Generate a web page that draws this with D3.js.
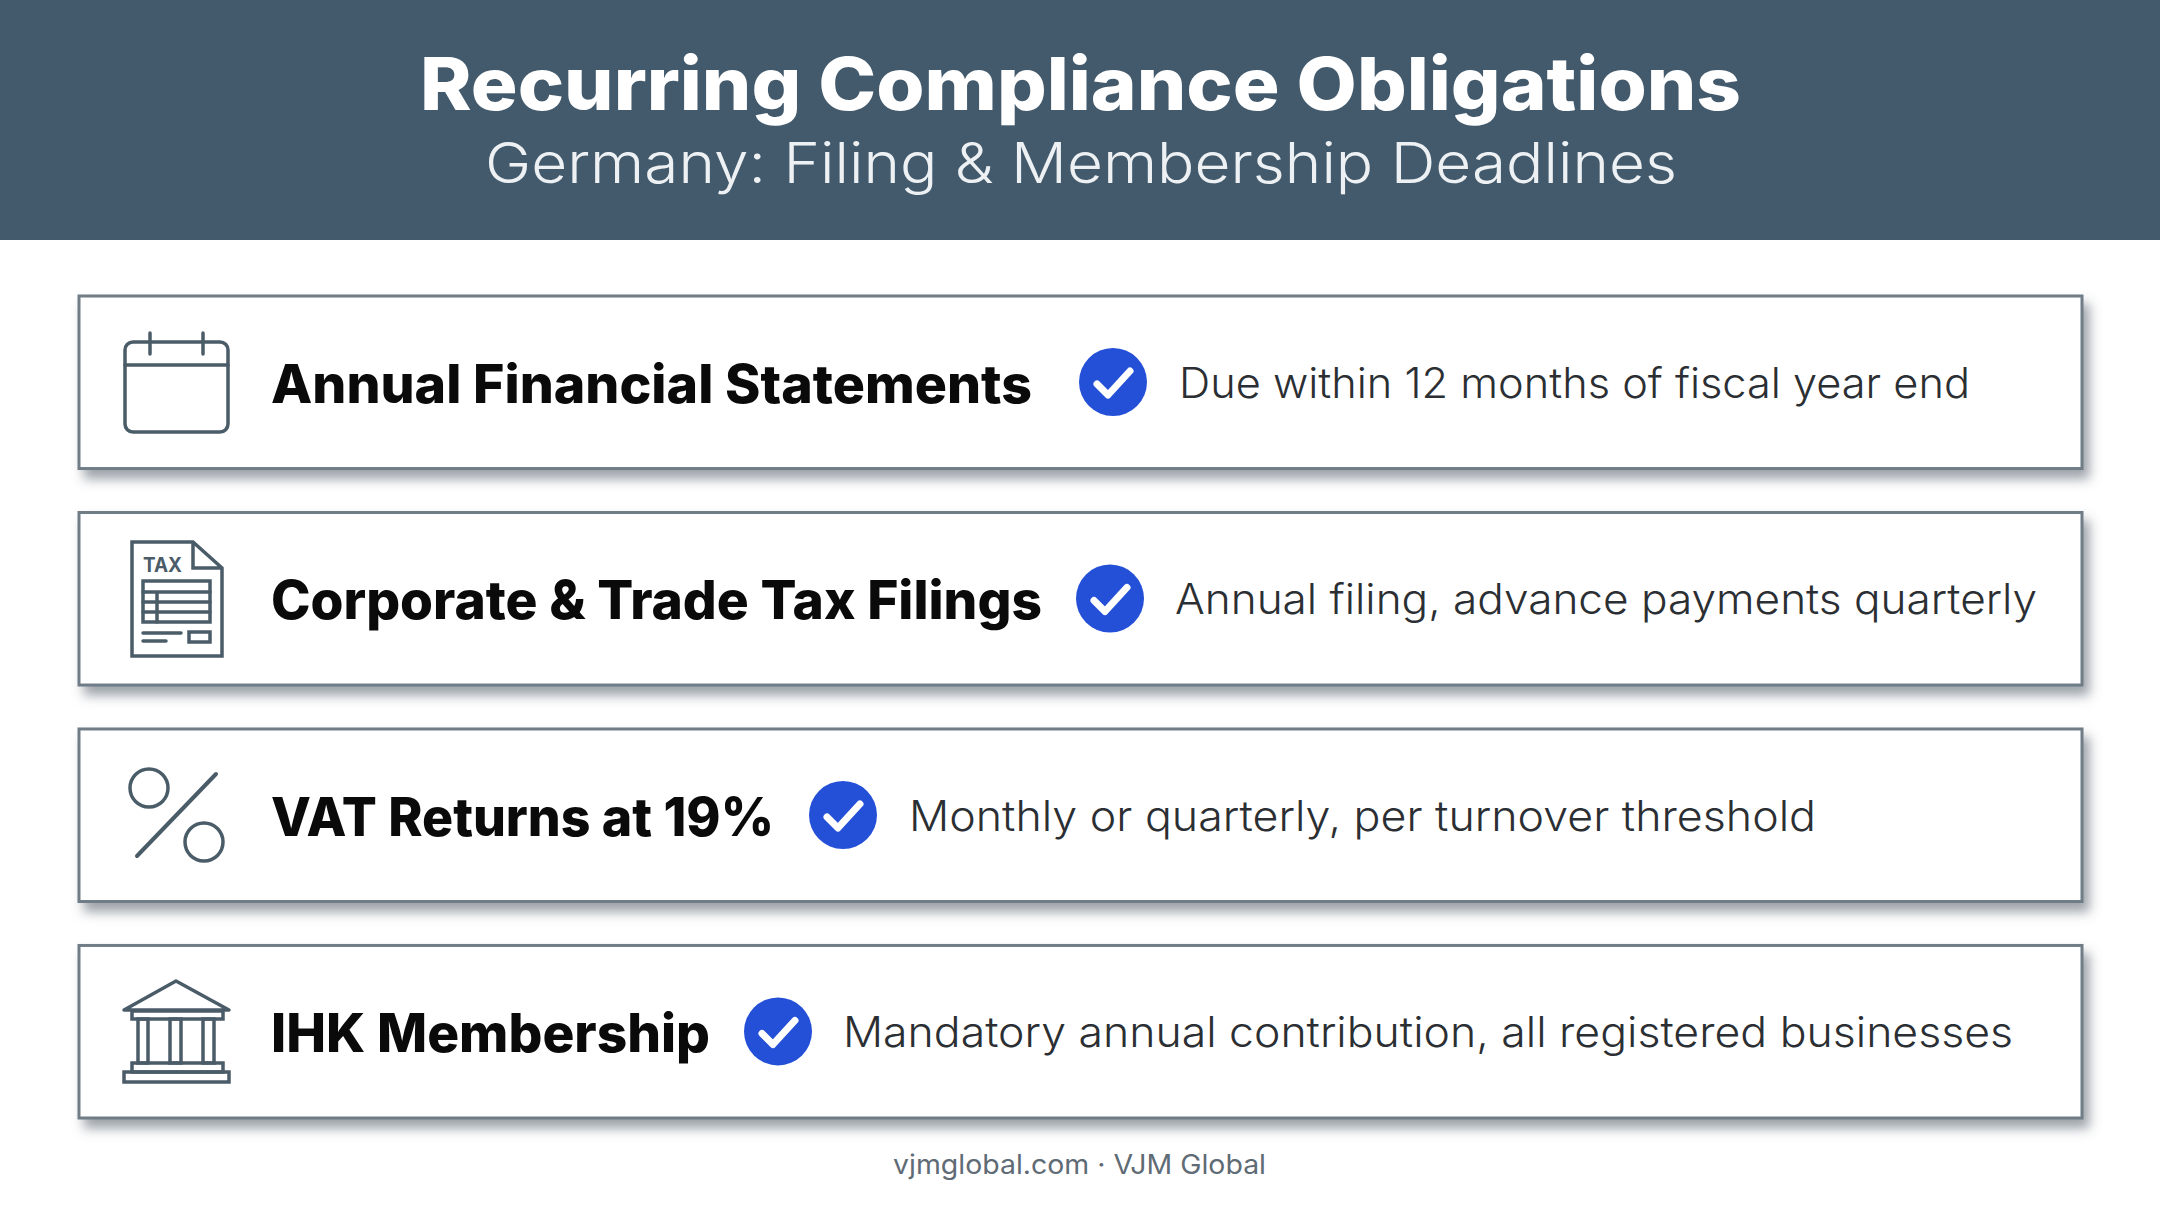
<!DOCTYPE html>
<html>
<head>
<meta charset="utf-8">
<script src="https://cdn.jsdelivr.net/npm/d3@7"></script>
<style>
  html, body { margin: 0; padding: 0; background: #fff; }
  svg { display: block; }
  text { font-family: Inter, "Open Sans", sans-serif; }
</style>
</head>
<body>
<div id="chart"></div>
<script>
const chartTitle = "Recurring Compliance Obligations";
const chartSubtitle = "Germany: Filing & Membership Deadlines";
const footerText = "vjmglobal.com \u00b7 VJM Global";

const obligations = [
  "Annual Financial Statements",
  "Corporate & Trade Tax Filings",
  "VAT Returns at 19%",
  "IHK Membership"
];
const details = [
  "Due within 12 months of fiscal year end",
  "Annual filing, advance payments quarterly",
  "Monthly or quarterly, per turnover threshold",
  "Mandatory annual contribution, all registered businesses"
];

// layout (Montserrat is not installed so text gets fitted)
const width = 2160, height = 1206;
const labelX = 271;
const labelWidths = [761, 771, 503, 439];
const checkXs = [1113, 1110, 843, 778];
const detailXs = [1179, 1175, 909, 843];
const detailWidths = [791, 862, 907, 1170];

const iconColor = "#4b5c69";

const svg = d3.select("#chart").append("svg")
  .attr("width", width)
  .attr("height", height);

const shadow = svg.append("defs").append("filter")
  .attr("id", "card-shadow")
  .attr("x", "-2%").attr("y", "-10%")
  .attr("width", "104%").attr("height", "130%");
shadow.append("feDropShadow")
  .attr("dx", 6).attr("dy", 9)
  .attr("stdDeviation", 6)
  .attr("flood-color", "#5c6670")
  .attr("flood-opacity", 0.6);

// header
svg.append("rect")
  .attr("width", width).attr("height", 240)
  .attr("fill", "#435a6c");

svg.append("text")
  .attr("x", 420).attr("y", 110)
  .attr("font-size", 73).attr("font-weight", 800)
  .attr("fill", "#fff")
  .attr("textLength", 1321).attr("lengthAdjust", "spacingAndGlyphs")
  .text(chartTitle);

svg.append("text")
  .attr("x", 485).attr("y", 183)
  .attr("font-size", 56).attr("font-weight", 300)
  .attr("fill", "#eef1f3")
  .attr("textLength", 1192).attr("lengthAdjust", "spacingAndGlyphs")
  .text(chartSubtitle);

// rows
const y = d3.scaleBand()
  .domain(d3.range(obligations.length))
  .range([296, 1118])
  .paddingInner(0.203);

const row = svg.selectAll(".row")
  .data(obligations)
  .enter().append("g")
    .attr("class", "row")
    .attr("transform", (d, i) => "translate(0," + y(i) + ")");

row.append("rect")
  .attr("x", 79).attr("width", 2003)
  .attr("height", y.bandwidth())
  .attr("fill", "#fff")
  .attr("stroke", "#6f7d87")
  .attr("stroke-width", 3)
  .attr("filter", "url(#card-shadow)");

row.append("text")
  .attr("x", labelX).attr("y", 107)
  .attr("font-size", 53).attr("font-weight", 800)
  .attr("fill", "#0a0a0a")
  .attr("textLength", (d, i) => labelWidths[i])
  .attr("lengthAdjust", "spacingAndGlyphs")
  .text(d => d);

row.append("circle")
  .attr("cx", (d, i) => checkXs[i]).attr("cy", 86)
  .attr("r", 34)
  .attr("fill", "#2450d8");

row.append("path")
  .attr("transform", (d, i) => "translate(" + checkXs[i] + ",86)")
  .attr("d", "M-16,2L-5,13L17,-11")
  .attr("fill", "none")
  .attr("stroke", "#fff")
  .attr("stroke-width", 7)
  .attr("stroke-linecap", "round")
  .attr("stroke-linejoin", "round");

row.append("text")
  .attr("x", (d, i) => detailXs[i]).attr("y", 102)
  .attr("font-size", 42).attr("font-weight", 350)
  .attr("fill", "#2b2f33")
  .attr("textLength", (d, i) => detailWidths[i])
  .attr("lengthAdjust", "spacingAndGlyphs")
  .text((d, i) => details[i]);

// icons
const icons = svg.append("g")
  .attr("fill", "none")
  .attr("stroke", iconColor)
  .attr("stroke-width", 3.5)
  .attr("stroke-linecap", "round");

function box(x0, y0, x1, y1, r) {
  return icons.append("rect")
    .attr("x", x0).attr("y", y0)
    .attr("width", x1 - x0).attr("height", y1 - y0)
    .attr("rx", r || 0);
}
function line(d, w) {
  return icons.append("path").attr("d", d).attr("stroke-width", w || 3.5);
}

// calendar
box(125, 342, 228, 432, 8);
line("M125,365H228M150,333V354M203,333V354");

// tax form
line("M132,542H193L222,568V656H132ZM193,542V568H222");
box(143, 581, 210, 622);
line("M143,592H210M143,602H210M143,612H210M157,592V622");
line("M143,633H181M143,641H166");
box(189, 632, 210, 642);
icons.append("text")
  .attr("x", 143).attr("y", 572)
  .attr("font-size", 20).attr("font-weight", 700)
  .attr("fill", iconColor).attr("stroke", "none")
  .attr("textLength", 39).attr("lengthAdjust", "spacingAndGlyphs")
  .text("TAX");

// percent
icons.append("circle").attr("cx", 149).attr("cy", 788).attr("r", 19);
icons.append("circle").attr("cx", 204).attr("cy", 842).attr("r", 19);
line("M216,774L137,856", 4);

// bank
line("M124,1010L176,981L229,1010Z").attr("stroke-linejoin", "round");
box(132, 1011, 223, 1019);
box(138, 1019, 148, 1063);
box(170, 1019, 181, 1063);
box(203, 1019, 214, 1063);
box(132, 1063, 223, 1072);
box(124, 1072, 229, 1082);

svg.append("text")
  .attr("x", 893).attr("y", 1174)
  .attr("font-size", 27).attr("font-weight", 400)
  .attr("fill", "#5f6b75")
  .attr("textLength", 373).attr("lengthAdjust", "spacingAndGlyphs")
  .text(footerText);
</script>
</body>
</html>
